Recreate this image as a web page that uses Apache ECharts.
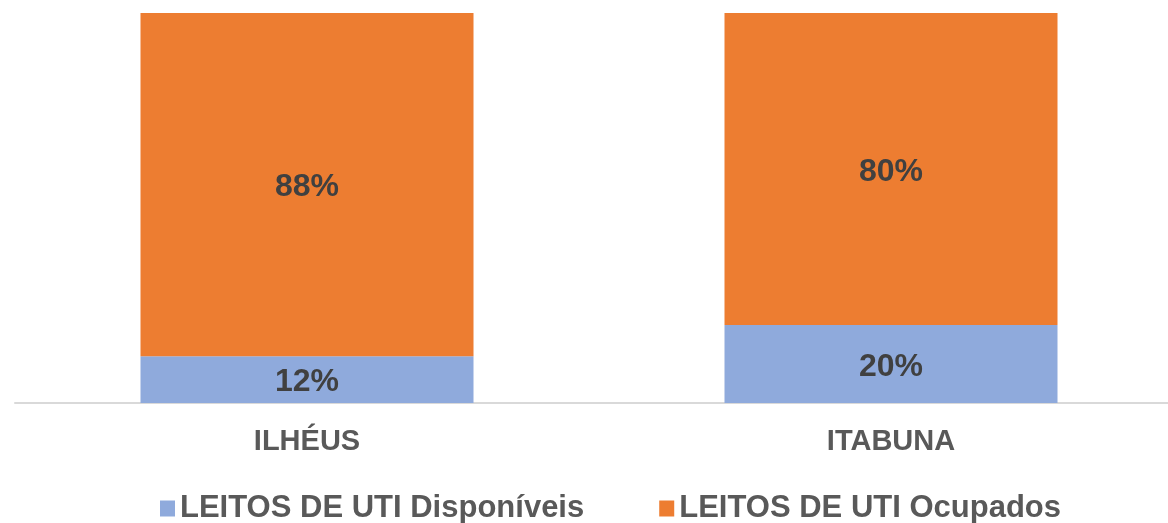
<!DOCTYPE html>
<html lang="pt">
<head>
	<meta charset="UTF-8">
	<title>Leitos de UTI</title>
	<script src="https://cdn.jsdelivr.net/npm/echarts@6/dist/echarts.min.js"></script>
	<style>body{margin:0;background:#fff}</style>
</head>
<body>
	<div id="app" style="width:1168px;height:523px"></div>
	<script>
		var cidades = ["ILHÉUS", "ITABUNA"];
		var disponiveis = [12, 20];
		var ocupados = [88, 80];
		var nomes = ["LEITOS DE UTI Disponíveis", "LEITOS DE UTI Ocupados"];

		var myChart = echarts.init(document.getElementById('app'));
		var fonte = 'Liberation Sans, Arial, sans-serif';
		var rotulo = {
			show: true,
			position: 'inside',
			offset: [0, 3],
			formatter: '{c}%',
			color: '#404040',
			fontSize: 32,
			fontWeight: 'bold',
			fontFamily: fonte
		};
		var option = {
			animation: false,
			legend: {
				top: 488,
				left: 155,
				itemWidth: 15,
				itemHeight: 16,
				itemGap: 75,
				icon: 'rect',
				textStyle: {
					color: '#595959',
					fontSize: 31,
					fontWeight: 'bold',
					fontFamily: fonte
				},
				data: nomes
			},
			grid: {
				left: 15,
				top: 13,
				width: 1168,
				height: 390,
				containLabel: false,
				outerBoundsMode: 'none'
			},
			xAxis: {
				type: 'category',
				data: cidades,
				axisLine: { lineStyle: { color: '#D9D9D9', width: 2 } },
				axisTick: { show: false },
				axisLabel: {
					color: '#595959',
					fontSize: 29,
					fontWeight: 'bold',
					margin: 24,
					fontFamily: fonte
				}
			},
			yAxis: {
				type: 'value',
				min: 0,
				max: 100,
				show: false
			},
			series: [
				{
					name: nomes[0],
					type: 'bar',
					stack: 'total',
					barWidth: 333,
					data: disponiveis,
					itemStyle: { color: '#8FAADC' },
					label: rotulo
				},
				{
					name: nomes[1],
					type: 'bar',
					stack: 'total',
					barWidth: 333,
					data: ocupados,
					itemStyle: { color: '#ED7D31' },
					label: rotulo
				}
			]
		};
		myChart.setOption(option);
	</script>
</body>
</html>
